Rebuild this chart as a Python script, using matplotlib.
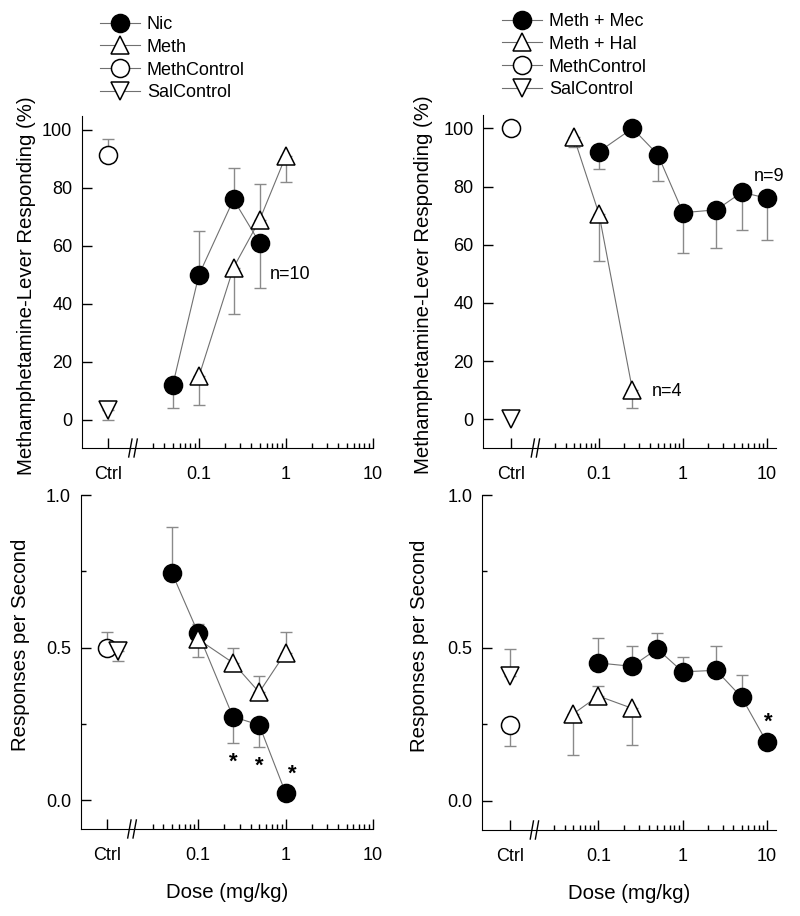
import numpy as np
import matplotlib
matplotlib.use("Agg")
import matplotlib.pyplot as plt
from matplotlib.lines import Line2D

plt.rcParams['font.family'] = ['Liberation Sans', 'DejaVu Sans']

# 数据
ctrl_x = 0.009        # x position of the "Ctrl" column on the log axis
break_x = 0.0175      # where the // break sits

# top-left: Nic / Meth, % meth-lever responding
nic_dose = [0.05, 0.1, 0.25, 0.5]
nic_pct = [12, 50, 76, 61]
nic_pct_err = [-8, 15, 11, -15.5]          # sign = direction of the one-sided bar
meth_dose = [0.1, 0.25, 0.5, 1]
meth_pct = [15, 52.5, 69, 91]
meth_pct_err = [-10, -16, 12.5, -9]
ctrl_pct_left = [91.5, 3.5]                # MethControl, SalControl
ctrl_pct_left_err = [5.5, -3.5]

# top-right: Meth + Mec / Meth + Hal
mec_dose = [0.1, 0.25, 0.5, 1, 2.5, 5, 10]
mec_pct = [92, 100, 91, 71, 72, 78, 76]
mec_pct_err = [-6, 0, -9, -14, -13, -13, -14.5]
hal_dose = [0.05, 0.1, 0.25]
hal_pct = [97, 70.5, 10]
hal_pct_err = [-3.5, -16, -6]
ctrl_pct_right = [100, 0]
ctrl_pct_right_err = [0, 0]

# bottom-left: responses per second
nic_rate = [0.745, 0.547, 0.273, 0.246, 0.024]
nic_rate_dose = [0.05, 0.1, 0.25, 0.5, 1]
nic_rate_err = [0.149, 0.03, -0.085, -0.071, 0]
meth_rate = [0.527, 0.45, 0.353, 0.483]
meth_rate_err = [-0.057, 0.047, 0.055, 0.069]
ctrl_rate_left = [0.5, 0.49]
ctrl_rate_left_err = [0.052, -0.034]

# bottom-right
mec_rate = [0.451, 0.44, 0.497, 0.422, 0.427, 0.339, 0.191]
mec_rate_err = [0.082, 0.065, 0.052, 0.048, 0.078, 0.073, 0]
hal_rate = [0.284, 0.343, 0.303]
hal_rate_err = [-0.133, 0.033, -0.121]
ctrl_rate_right = [0.248, 0.407]
ctrl_rate_right_err = [-0.069, 0.09]

tick_pos = [ctrl_x, 0.1, 1, 10]
tick_lab = ['Ctrl', '0.1', '1', '10']
minor_pos = [0.03, 0.04, 0.05, 0.06, 0.07, 0.08, 0.09] + \
            [0.2, 0.3, 0.4, 0.5, 0.6, 0.7, 0.8, 0.9] + \
            [2, 3, 4, 5, 6, 7, 8, 9]

LINE_C = '#707070'
ERR_C = '#8a8a8a'
FS = 13
LFS = 14.7

fig = plt.figure(figsize=(8, 9.16), dpi=100)
ax_tl = fig.add_axes([0.1025, 0.5109, 0.3635, 0.3625])
ax_tr = fig.add_axes([0.604, 0.5109, 0.366, 0.3636])
ax_bl = fig.add_axes([0.101, 0.0950, 0.365, 0.3646])
ax_br = fig.add_axes([0.6025, 0.0939, 0.3675, 0.3657])


def series(ax, x, y, err, marker, filled, ms, connect=True):
    x = np.asarray(x, float)
    y = np.asarray(y, float)
    err = np.asarray(err, float)
    up = np.where(err > 0, err, 0)
    lo = np.where(err < 0, -err, 0)
    keep = err != 0
    if keep.any():
        ax.errorbar(x[keep], y[keep], yerr=[lo[keep], up[keep]], fmt='none',
                    ecolor=ERR_C, elinewidth=1, capsize=4, capthick=1, zorder=1)
    ax.plot(x, y, color=LINE_C if connect else 'none', lw=0.8,
            marker=marker, ms=ms, mfc='black' if filled else 'white',
            mec='black', mew=1.1, zorder=3, clip_on=False)


def style(ax, xlim, ylim, yticks, ylabel, label_xy, yminor=None, xlabel=None):
    ax.set_xscale('log')
    ax.set_xlim(*xlim)
    ax.set_ylim(*ylim)
    ax.set_xticks(tick_pos)
    ax.set_xticklabels(tick_lab)
    ax.set_xticks(minor_pos, minor=True)
    ax.set_xticklabels([], minor=True)
    ax.set_yticks(yticks)
    if yminor is not None:
        ax.set_yticks(yminor, minor=True)
    else:
        ax.set_yticks([], minor=True)
    ax.spines['top'].set_visible(False)
    ax.spines['right'].set_visible(False)
    ax.tick_params(which='major', direction='in', length=7, width=1, labelsize=FS, pad=7)
    ax.tick_params(which='minor', direction='in', length=3.8, width=1)
    ax.tick_params(axis='x', which='major', pad=13)
    ax.set_ylabel(ylabel, fontsize=LFS)
    ax.yaxis.set_label_coords(*label_xy)
    if xlabel:
        ax.set_xlabel(xlabel, fontsize=LFS, labelpad=14)
    # break marks on the x axis
    for dx in (0.93, 1.07):
        xb = break_x * dx
        ax.plot([xb / 1.045, xb * 1.045], [-0.027, 0.027], color='black', lw=1,
                transform=ax.get_xaxis_transform(), clip_on=False)


# ---- top-left
series(ax_tl, nic_dose, nic_pct, nic_pct_err, 'o', True, 13)
series(ax_tl, meth_dose, meth_pct, meth_pct_err, '^', False, 12.5)
series(ax_tl, [ctrl_x], [ctrl_pct_left[0]], [ctrl_pct_left_err[0]], 'o', False, 13, False)
series(ax_tl, [ctrl_x], [ctrl_pct_left[1]], [ctrl_pct_left_err[1]], 'v', False, 12.5, False)
style(ax_tl, (0.00452, 10), (-9.7, 104.8), [0, 20, 40, 60, 80, 100],
      'Methamphetamine-Lever Responding (%)', (-0.158, 0.49))
ax_tl.text(0.65, 50, 'n=10', fontsize=FS, va='center', ha='left')

# ---- top-right
series(ax_tr, mec_dose, mec_pct, mec_pct_err, 'o', True, 13)
series(ax_tr, hal_dose, hal_pct, hal_pct_err, '^', False, 12.5)
series(ax_tr, [ctrl_x], [ctrl_pct_right[0]], [ctrl_pct_right_err[0]], 'o', False, 13, False)
series(ax_tr, [ctrl_x], [ctrl_pct_right[1]], [ctrl_pct_right_err[1]], 'v', False, 12.5, False)
style(ax_tr, (0.00417, 12.8), (-9.9, 104.6), [0, 20, 40, 60, 80, 100],
      'Methamphetamine-Lever Responding (%)', (-0.170, 0.49))
ax_tr.text(7.0, 83.5, 'n=9', fontsize=FS, va='center', ha='left')
ax_tr.text(0.43, 9.6, 'n=4', fontsize=FS, va='center', ha='left')

# ---- bottom-left
series(ax_bl, nic_rate_dose, nic_rate, nic_rate_err, 'o', True, 13)
series(ax_bl, meth_dose, meth_rate, meth_rate_err, '^', False, 12.5)
series(ax_bl, [ctrl_x], [ctrl_rate_left[0]], [ctrl_rate_left_err[0]], 'o', False, 13, False)
series(ax_bl, [ctrl_x * 1.34], [ctrl_rate_left[1]], [ctrl_rate_left_err[1]], 'v', False, 12.5, False)
style(ax_bl, (0.00452, 10), (-0.095, 1.0), [0.0, 0.5, 1.0], 'Responses per Second',
      (-0.174, 0.551), yminor=[0.25, 0.75], xlabel='Dose (mg/kg)')
ax_bl.set_yticklabels(['0.0', '0.5', '1.0'])
for xs, ys in [(0.25, 0.125), (0.5, 0.112), (1.21, 0.085)]:
    ax_bl.text(xs, ys, '*', fontsize=16, fontweight='bold', ha='center', va='center')

# ---- bottom-right
series(ax_br, mec_dose, mec_rate, mec_rate_err, 'o', True, 13)
series(ax_br, hal_dose, hal_rate, hal_rate_err, '^', False, 12.5)
series(ax_br, [ctrl_x], [ctrl_rate_right[0]], [ctrl_rate_right_err[0]], 'o', False, 13, False)
series(ax_br, [ctrl_x], [ctrl_rate_right[1]], [ctrl_rate_right_err[1]], 'v', False, 12.5, False)
style(ax_br, (0.00417, 12.8), (-0.095, 1.0), [0.0, 0.5, 1.0], 'Responses per Second',
      (-0.180, 0.551), yminor=[0.25, 0.75], xlabel='Dose (mg/kg)')
ax_br.set_yticklabels(['0.0', '0.5', '1.0'])
ax_br.text(10.4, 0.258, '*', fontsize=16, fontweight='bold', ha='center', va='center')


# legends
def handles(labels):
    specs = [('o', 'black'), ('^', 'white'), ('o', 'white'), ('v', 'white')]
    return [Line2D([], [], color=LINE_C, lw=0.8, marker=m, ms=13 if m == 'o' else 12.5,
                   mfc=fc, mec='black', mew=1.1, label=l)
            for (m, fc), l in zip(specs, labels)]


fig.legend(handles=handles(['Nic', 'Meth', 'MethControl', 'SalControl']),
           loc='upper left', bbox_to_anchor=(0.125, 1 - 16 / 916), frameon=False,
           fontsize=FS, handlelength=2.2, handletextpad=0.4, labelspacing=0.32,
           borderpad=0, borderaxespad=0)
fig.legend(handles=handles(['Meth + Mec', 'Meth + Hal', 'MethControl', 'SalControl']),
           loc='upper left', bbox_to_anchor=(0.6275, 1 - 13 / 916), frameon=False,
           fontsize=FS, handlelength=2.2, handletextpad=0.4, labelspacing=0.32,
           borderpad=0, borderaxespad=0)

plt.savefig('out.png', dpi=100)
